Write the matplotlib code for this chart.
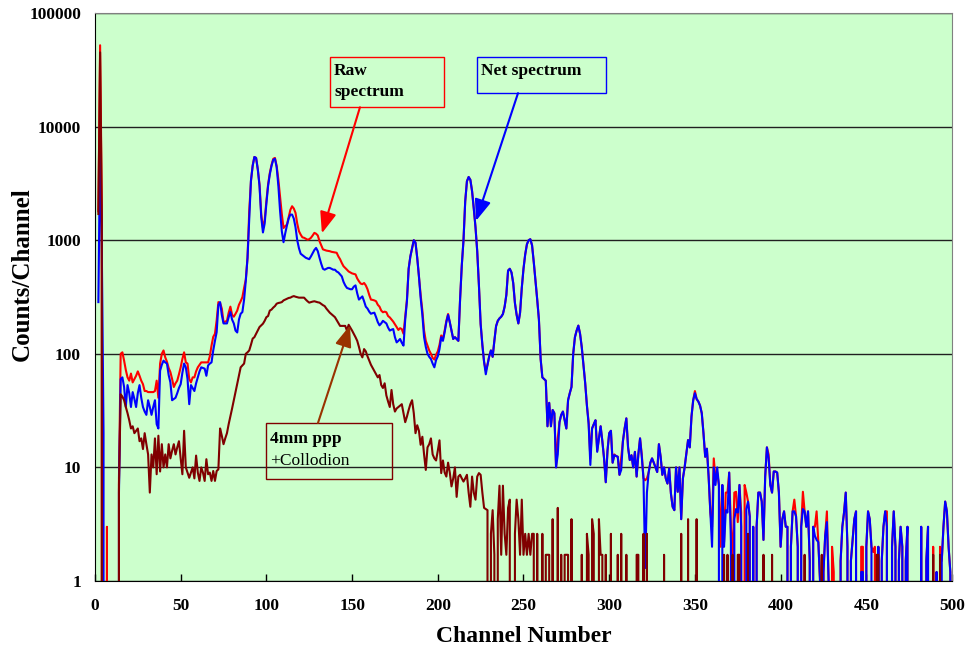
import numpy as np
import matplotlib
matplotlib.use("Agg")
import matplotlib.pyplot as plt
from matplotlib.patches import Rectangle
from matplotlib.ticker import NullLocator

plt.rcParams['font.family'] = ['Liberation Serif', 'DejaVu Serif']
plt.rcParams['font.weight'] = 'bold'

# Counts per channel, channel 0 .. 500 (None = no data)
raw_counts = [
    None, None, 1800, 52000, 2000, 0, 0, 3, 0, 0,
    0, 0, 0, 0, 8, 100, 103, 87, 72, 62,
    58, 67, 56, 60, 64, 70, 64, 58, 54, 47,
    47, 46, 46, 46, 46, 47, 58, 41, 82, 100,
    107, 93, 85, 75, 69, 60, 51, 55, 58, 66,
    76, 90, 103, 84, 82, 60, 56, 62, 62, 70,
    76, 80, 84, 84, 84, 84, 84, 95, 118, 141,
    150, 197, 285, 280, 250, 190, 192, 195, 230, 260,
    220, 212, 225, 240, 270, 290, 315, 380, 450, 700,
    1800, 3300, 4550, 5400, 5300, 4200, 3100, 1700, 1280, 1500,
    2200, 3100, 3900, 4600, 5200, 5300, 4500, 3400, 2400, 1700,
    1280, 1330, 1370, 1600, 1850, 1990, 1900, 1740, 1400, 1200,
    1120, 1060, 1050, 1030, 1010, 1020, 1050, 1100, 1160, 1140,
    1100, 980, 900, 830, 820, 810, 805, 800, 790, 785,
    780, 775, 720, 680, 630, 590, 570, 550, 530, 520,
    510, 505, 500, 460, 435, 415, 410, 420, 400, 370,
    330, 300, 298, 295, 290, 270, 260, 240, 232, 235,
    232, 215, 209, 200, 192, 182, 172, 162, 168, 165,
    150, 210, 300, 560, 720, 850, 1000, 950, 700, 480,
    330, 240, 160, 130, 118, 107, 100, 92, 89, 98,
    105, 120, 145, 135, 160, 195, 224, 190, 160, 135,
    140, 135, 130, 300, 600, 1000, 2200, 3300, 3600, 3400,
    2700, 1900, 1300, 800, 400, 183, 120, 85, 71, 80,
    95, 107, 94, 130, 175, 195, 205, 212, 224, 260,
    330, 540, 560, 520, 420, 280, 220, 185, 230, 380,
    560, 750, 920, 1000, 1020, 900, 640, 440, 300, 200,
    90, 62, 60, 58, 23, 37, 23, 32, 30, 10,
    18, 25, 29, 31, 26, 22, 39, 45, 51, 100,
    140, 160, 177, 150, 114, 80, 55, 35, 25, 12,
    22, 24, 26, 14, 18, 23, 17, 12, 7.4, 14,
    20, 21, 11, 13, 12.6, 12.4, 8.6, 12, 17, 22,
    27, 15, 11.6, 12.8, 10, 13.7, 8.3, 13, 18, 13,
    8, 7.7, 8, 9, 11, 12, 11, 10, 9.1, 16,
    12.4, 8.6, 10, 8, 7.2, 9.8, 5.9, 4.5, 4.2, 10,
    6.1, 10, 3.5, 8, 10, 13.3, 17.4, 15, 28, 39,
    47, 40, 38, 35, 30, 20, 12.4, 14.6, 8.3, 4,
    3, 12, 8, 9, 7, 2, 7, 2.2, 6, 6,
    9, 3, 1.5, 6, 6.1, 3.3, 7, 4, 0, 7,
    6, 5, 3.7, 0, 3, 0, 3, 6, 6, 5,
    2.3, 8.3, 15, 13, 7, 6, 9.2, 9.2, 9, 6,
    2, 3.5, 4.1, 3, 3, 0, 2, 4.1, 5.2, 3.7,
    2, 0, 3, 6.1, 4.1, 3, 4.1, 1.5, 0, 3,
    3, 4.1, 2.2, 1, 0, 1.2, 2.5, 4.1, 1, 0,
    2, 1.2, 0, 0, 0, 1.5, 3, 4, 6, 2,
    0, 1.5, 2.3, 3.5, 4.1, 0, 0, 2, 2, 0,
    2, 4.1, 3.5, 2, 1.8, 2, 0, 2, 0, 1.5,
    3, 4.1, 4.1, 0, 0, 2, 4.1, 2, 0, 1.5,
    3, 2, 0, 1.5, 3, 0, 0, 0, 0, 0,
    0, 0, 3, 0, 0, 1.5, 3, 0, 0, 2,
    0, 1.2, 0, 2, 1.5, 3, 5, 4.1, 2, 1.2,
    0,
]

net_counts = [
    None, None, 285, 7400, 800, 20, 0, 0, 0, 0,
    0, 0, 0, 0, 6, 60, 62, 51, 34, 53,
    45, 34, 46, 40, 34, 45, 53, 41, 34, 31,
    29, 39, 34, 29, 34, 39, 24, 22, 71, 80,
    87, 84, 82, 65, 56, 39, 40, 41, 45, 50,
    54, 68, 82, 76, 60, 36, 53, 50, 47, 55,
    62, 70, 76, 75, 74, 64, 79, 82, 84, 107,
    130, 155, 268, 285, 220, 185, 185, 185, 210, 233,
    200, 185, 160, 154, 200, 225, 233, 300, 440, 700,
    1500, 3350, 4500, 5400, 5300, 4200, 3000, 1600, 1170, 1400,
    2100, 3000, 3800, 4500, 5100, 5200, 4400, 3000, 1800, 1200,
    960, 1150, 1350, 1550, 1680, 1680, 1550, 1300, 1000, 850,
    760, 740, 720, 700, 690, 680, 720, 770, 820, 855,
    800, 700, 620, 560, 550, 560, 570, 570, 560, 550,
    550, 530, 520, 500, 480, 430, 400, 380, 375, 370,
    370, 390, 400, 340, 300, 310, 320, 290, 260, 250,
    235, 225, 228, 230, 210, 190, 178, 185, 195, 190,
    185, 170, 160, 163, 165, 140, 126, 130, 135, 125,
    118, 200, 290, 560, 720, 850, 1000, 950, 700, 480,
    310, 220, 140, 115, 100, 94, 90, 82, 76, 88,
    95, 110, 140, 130, 155, 190, 220, 190, 160, 135,
    140, 135, 130, 300, 600, 1000, 2200, 3300, 3600, 3400,
    2700, 1900, 1300, 800, 400, 183, 120, 85, 66, 80,
    95, 107, 94, 130, 175, 195, 205, 212, 224, 260,
    330, 540, 560, 520, 420, 280, 220, 185, 230, 380,
    560, 750, 920, 1000, 1020, 900, 640, 440, 300, 200,
    90, 62, 60, 58, 23, 37, 23, 32, 30, 10,
    13, 25, 29, 31, 26, 22, 39, 45, 51, 100,
    140, 160, 177, 150, 114, 80, 55, 35, 24, 10.5,
    22, 24, 26, 13.7, 18, 23, 17, 12, 7.4, 14,
    20, 21, 11, 12.8, 12.6, 12.4, 8.6, 9.5, 17, 22,
    27, 15, 11.6, 12.8, 10, 13.7, 8.3, 13, 18, 12.4,
    8, 1.3, 6, 9, 11, 12, 11, 10, 9.1, 16,
    12.4, 8.6, 10, 8, 7.2, 9.8, 5.9, 4.5, 4.2, 10,
    6.1, 10, 3.5, 8, 10, 13.3, 17.4, 15, 28, 39,
    45, 40, 38, 35, 30, 20, 12.4, 14.6, 8.3, 4,
    2, 10, 7, 10, 7, 0, 7, 2, 4.2, 4,
    9, 2.2, 0, 3.5, 4.3, 4, 7, 3, 0, 0,
    4.3, 5, 3.7, 0, 3, 0, 3, 6, 6, 5,
    2.3, 8.3, 15, 12, 7, 6, 9.2, 9.2, 9, 6,
    2, 3.5, 4.1, 3, 3, 0, 2, 4.1, 4.1, 3.7,
    2, 0, 3, 4.3, 4.1, 3, 4.1, 1.5, 0, 3,
    2.5, 2.3, 2.2, 1, 0, 1.2, 2.5, 3.3, 1, 0,
    0, 0, 0, 0, 0, 1.5, 3, 4, 6, 2,
    0, 1.5, 2.3, 3.5, 4.1, 0, 0, 1.2, 1.2, 0,
    2, 4.1, 3.5, 2, 0, 0, 0, 2, 0, 1.5,
    3, 4.1, 3, 0, 0, 2, 4.1, 2, 0, 1.5,
    3, 2, 0, 1.5, 3, 0, 0, 0, 0, 0,
    0, 0, 3, 0, 0, 1.5, 3, 0, 0, 0,
    0, 1.2, 0, 0, 1.5, 3, 5, 4.1, 2, 1.2,
    0,
]

ppp_counts = [
    None, None, 1700, 45000, 1500, 0, 0, 0, 0, 0,
    0, 0, 0, 0, 7, 44, 42, 39, 34, 30,
    26, 22, 23, 20, 21, 22, 17, 18, 14.5, 20,
    16, 13, 6, 13, 10, 18, 8.7, 19, 9.2, 16,
    10, 13, 10, 16, 12, 14, 16, 13, 15, 17,
    12, 8.7, 21, 10, 9, 8.1, 9, 10, 8, 12.7,
    9, 7.6, 10, 9, 7.6, 11.8, 8.7, 9, 7.6, 9.3,
    7.6, 9.3, 9.6, 22, 19, 16, 18, 20, 24, 28,
    33, 39, 46, 54, 65, 76, 79, 82, 100, 103,
    107, 120, 136, 140, 150, 160, 172, 178, 184, 195,
    210, 215, 240, 245, 255, 263, 276, 280, 282, 285,
    295, 300, 305, 310, 312, 318, 322, 318, 315, 312,
    312, 312, 312, 300, 290, 282, 285, 288, 290, 287,
    284, 282, 275, 268, 263, 250, 240, 230, 223, 216,
    210, 198, 187, 176, 176, 176, 176, 160, 180, 170,
    160, 150, 140, 130, 115, 100, 93, 110, 105, 95,
    87, 80, 75, 70, 66, 62, 65, 53, 50, 55,
    43, 38, 34, 48, 36, 31, 33, 34, 35, 36,
    30, 25, 28, 32, 36, 39, 30, 20, 23.5, 21,
    15.8, 18.6, 13, 9.5, 15, 16, 18, 13, 12, 11.5,
    14, 17.3, 8.9, 11.5, 9, 8.3, 11, 9, 6.8, 8,
    10, 5.5, 8.3, 8.6, 8, 7.5, 8, 8.6, 6, 4.5,
    8.3, 6, 5.2, 8.3, 8.9, 8.6, 6, 4.4, 4.3, 4.2,
    0, 2.6, 4.2, 1.7, 0, 3.5, 6.9, 1.7, 6.9, 2.6,
    1.7, 4.4, 5.2, 0, 0, 2.6, 5.2, 3.5, 1.7, 5.2,
    1.7, 2.6, 1.7, 2.6, 1.7, 2.6, 2.6, 0, 2.6, 0,
    0, 2.6, 0, 1.7, 1.7, 1.7, 0, 3.5, 0, 0,
    4.4, 0, 1.7, 0, 1.7, 1.7, 1.7, 0, 3.5, 0,
    0, 0, 0, 0, 1.7, 0, 0, 2.6, 1.7, 0,
    3.5, 2.6, 0, 0, 3.5, 1.7, 1.7, 0, 1.7, 0,
    0, 2.6, 0, 0, 0, 1.7, 0, 2.6, 0, 0,
    1.7, 0, 0, 0, 0, 0, 1.7, 1.7, 0, 0,
    2.6, 0, 2.6, 0, 0, 0, 0, 0, 0, 0,
    0, 0, 1.7, 0, 0, 0, 0, 0, 0, 0,
    0, 0, 2.6, 0, 0, 0, 3.5, 0, 0, 0,
    0, 3.5, 0, 0, 0, 0, 0, 0, 0, 0,
    0, 0, 0, 0, 0, 0, 0, 1.7, 0, 1.7,
    0, 0, 1.7, 0, 0, 1.7, 1.7, 0, 0, 0,
    0, 2.6, 0, 0, 0, 0, 0, 0, 0, 0,
    1.7, 0, 0, 0, 0, 1.7, 0, 0, 0, 0,
    0, 0, 0, 0, 0, 0, 0, 0, 0, 0,
    0, 0, 0, 0, 1.7, 0, 0, 0, 0, 0,
    0, 0, 0, 0, 1.7, 0, 0, 0, 0, 0,
    0, 0, 0, 0, 0, 0, 0, 0, 0, 0,
    0, 0, 0, 0, 0, 0, 0, 0, 0, 0,
    0, 0, 0, 0, 0, 0, 1.7, 1.7, 0, 0,
    0, 0, 0, 0, 0, 0, 0, 0, 0, 0,
    0, 0, 0, 0, 0, 0, 0, 0, 0, 0,
    0, 0, 0, 0, 0, 0, 0, 0, 0, 1.7,
    0, 0, 0, 1.7, 0, 0, 0, 0, 0, 0,
    0,
]

x_ticks = [0, 50, 100, 150, 200, 250, 300, 350, 400, 450, 500]
y_ticks = [1, 10, 100, 1000, 10000, 100000]
y_tick_labels = ['1', '10', '100', '1000', '10000', '100000']

raw = np.array(raw_counts, dtype=float)
net = np.array(net_counts, dtype=float)
ppp = np.array(ppp_counts, dtype=float)
channel = np.arange(len(raw))

fig = plt.figure(figsize=(9.68, 6.53), dpi=100)
ax = fig.add_axes([0.0981, 0.1103, 0.8854, 0.8698])
ax.set_facecolor('#CCFFCC')

ax.set_yscale('log')
ax.plot(channel, raw, color='#FF0000', lw=1.5, zorder=3)
ax.plot(channel, net, color='#0000FF', lw=1.5, zorder=4)
ax.plot(channel, ppp, color='#800000', lw=1.5, zorder=5)

ax.set_xlim(0, 500)
ax.set_ylim(1, 100000)
ax.set_xticks(x_ticks)
ax.set_yticks(y_ticks)
ax.set_yticklabels(y_tick_labels)
ax.yaxis.set_minor_locator(NullLocator())
ax.yaxis.grid(True, color='#202020', lw=1.0)
ax.set_axisbelow(True)
ax.tick_params(axis='x', direction='in', length=5, width=1, pad=12,
               labelsize=12.5)
ax.tick_params(axis='y', direction='in', length=0, pad=10, labelsize=12.5)
for side in ['left', 'bottom']:
    ax.spines[side].set_color('black')
for side in ['top', 'right']:
    ax.spines[side].set_color('#808080')

ax.set_xlabel('Channel Number', fontsize=17, fontweight='bold')
ax.xaxis.set_label_coords(0.5, -0.08)
ax.set_ylabel('Counts/Channel', fontsize=18, fontweight='bold')
ax.yaxis.set_label_coords(-0.072, 0.54)

# text boxes (axes fractions) and their arrows (data coordinates)
ax.add_patch(Rectangle((0.274, 0.835), 0.133, 0.087, transform=ax.transAxes,
                       fill=False, edgecolor='#FF0000', lw=1.0, zorder=6))
ax.text(0.279, 0.912, 'Raw\nspectrum', transform=ax.transAxes, ha='left',
        va='top', fontsize=12.5, fontweight='bold', linespacing=1.45,
        zorder=7)
ax.annotate('', xy=(132.4, 1150), xytext=(154.6, 14800),
            arrowprops=dict(arrowstyle='-|>,head_length=1.3,head_width=0.5',
                            color='#FF0000', lw=1.5, mutation_scale=10,
                            shrinkA=0, shrinkB=0), zorder=6)

ax.add_patch(Rectangle((0.446, 0.859), 0.150, 0.063, transform=ax.transAxes,
                       fill=False, edgecolor='#0000FF', lw=1.0, zorder=6))
ax.text(0.450, 0.912, 'Net spectrum', transform=ax.transAxes, ha='left',
        va='top', fontsize=12.5, fontweight='bold', zorder=7)
ax.annotate('', xy=(222.3, 1480), xytext=(246.8, 19700),
            arrowprops=dict(arrowstyle='-|>,head_length=1.3,head_width=0.5',
                            color='#0000FF', lw=1.5, mutation_scale=10,
                            shrinkA=0, shrinkB=0), zorder=6)

ax.add_patch(Rectangle((0.200, 0.180), 0.146, 0.098, transform=ax.transAxes,
                       fill=False, edgecolor='#800000', lw=1.0, zorder=6))
ax.text(0.204, 0.264, '4mm ppp', transform=ax.transAxes, ha='left',
        va='top', fontsize=12.5, fontweight='bold', zorder=7)
ax.text(0.204, 0.226, '+Collodion', transform=ax.transAxes, ha='left',
        va='top', fontsize=12.5, fontweight='normal', zorder=7)
ax.annotate('', xy=(148.8, 178), xytext=(130.1, 24.6),
            arrowprops=dict(arrowstyle='-|>,head_length=1.3,head_width=0.5',
                            color='#993300', lw=1.5, mutation_scale=10,
                            shrinkA=0, shrinkB=0), zorder=6)

fig.savefig('out.png', dpi=100)
